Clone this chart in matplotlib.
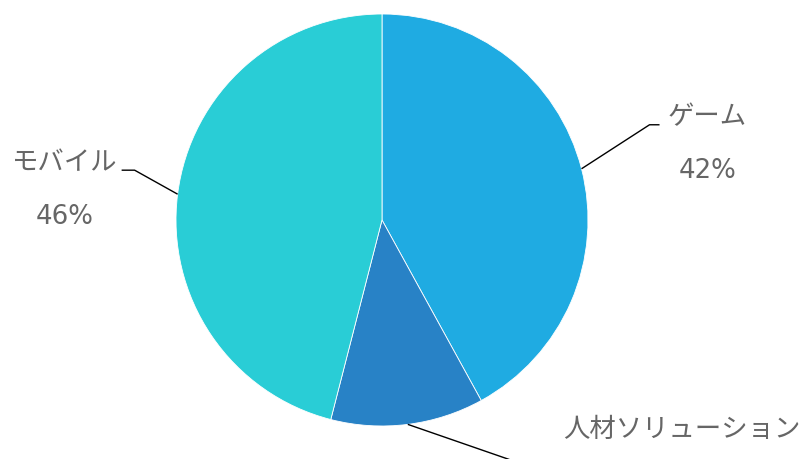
import numpy as np
import matplotlib
matplotlib.use("Agg")
import matplotlib.pyplot as plt

plt.rcParams['font.family'] = ['DejaVu Sans', 'Noto Sans CJK JP']

categories = ["ゲーム", "人材ソリューション", "モバイル"]
shares = [42, 12, 46]
colors = ["#1FABE2", "#2882C6", "#29CDD6"]

W, H = 805, 459
fig = plt.figure(figsize=(W / 100, H / 100), dpi=100)
ax = fig.add_axes([0, 0, 1, 1])

cx, cy, r = 382, H - 220, 206
wedges, _ = ax.pie(shares, colors=colors, startangle=90, counterclock=False,
                   center=(cx, cy), radius=r, frame=True,
                   wedgeprops=dict(edgecolor='white', linewidth=0.6))
ax.set_xlim(0, W)
ax.set_ylim(0, H)
ax.set_aspect('equal')
ax.axis('off')

NAME_SIZE = 19.0
PCT_SIZE = 18.7
TEXT_COLOR = '#666666'
PCT_GAP = 54

# leader line: (elbow dx, elbow dy, tail length, side, name offset x, name offset y)
leaders = {
    "ゲーム": (68, 44, 10, 1, 8, 8),
    "人材ソリューション": (130, -45, 0, 1, 25, 39),
    "モバイル": (-43, 24, -13, -1, -4, 7),
}

for w, name, val in zip(wedges, categories, shares):
    mid = np.deg2rad((w.theta1 + w.theta2) / 2)
    x0, y0 = cx + r * np.cos(mid), cy + r * np.sin(mid)
    dx, dy, tail, side, ox, oy = leaders[name]
    x1, y1 = x0 + dx, y0 + dy
    x2 = x1 + tail
    ax.plot([x0, x1, x2], [y0, y1, y1], color='black', lw=1.0,
            solid_capstyle='butt', clip_on=False)
    tx, ty = x2 + ox, y1 + oy
    ha = 'left' if side > 0 else 'right'
    t = ax.text(tx, ty, name, ha=ha, va='center', fontsize=NAME_SIZE,
                color=TEXT_COLOR)
    fig.canvas.draw()
    wpx = t.get_window_extent().width
    center = tx + wpx / 2 if side > 0 else tx - wpx / 2
    # percentage centred under the name
    ax.text(center, ty - PCT_GAP, f"{val}%", ha='center', va='center',
            fontsize=PCT_SIZE, color=TEXT_COLOR, clip_on=True)

fig.savefig("out.png", dpi=100)
